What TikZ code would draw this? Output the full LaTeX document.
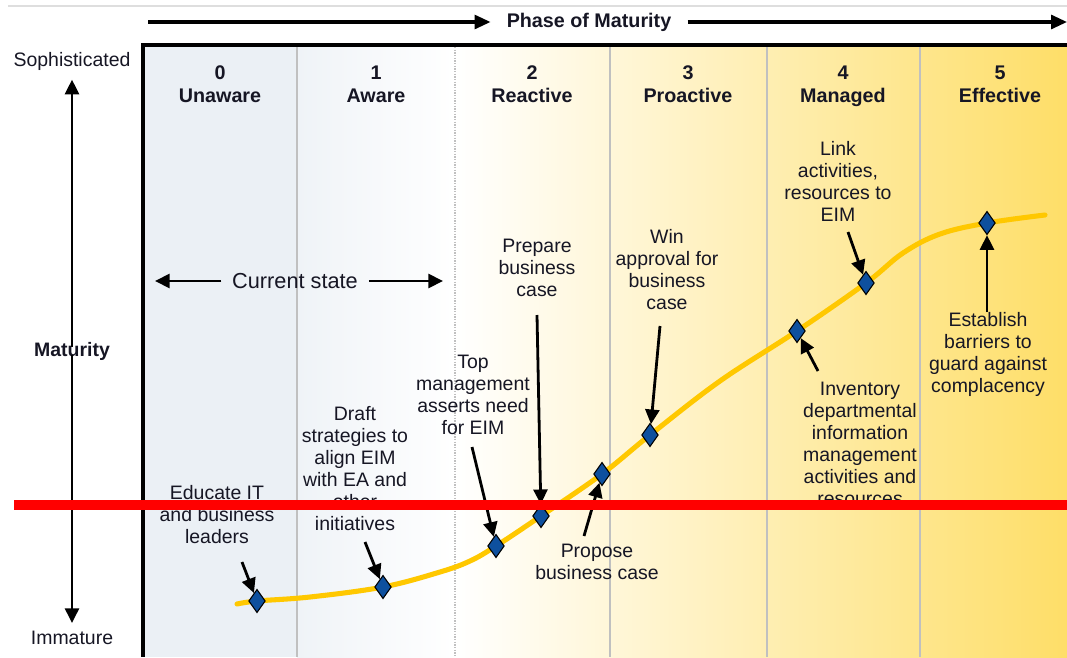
\documentclass[tikz,border=0pt]{standalone}
\usepackage{fontspec}
\setmainfont{Liberation Sans}
\usetikzlibrary{arrows.meta,shapes.geometric}

\definecolor{curveyellow}{RGB}{255,200,0}
\definecolor{gemblue}{RGB}{14,80,158}
\definecolor{leftgray}{RGB}{235,240,245}
\definecolor{rightgold}{RGB}{254,222,104}
\definecolor{sepgray}{RGB}{192,192,192}
\definecolor{inkdark}{RGB}{22,22,36}

\tikzset{
  lbl/.style={align=center, text=inkdark, font=\fontsize{14.6}{16.5}\selectfont, inner sep=0pt},
  head/.style={align=center, text=inkdark, font=\bfseries\fontsize{14.8}{17.2}\selectfont},
  gem/.style={diamond, draw=black, fill=gemblue, line width=0.8pt, inner sep=0pt,
    minimum width=12.5pt, minimum height=17.5pt},
  ptr/.style={line width=2.1pt, -{Triangle[length=11pt,width=10.5pt]}},
  bigptr/.style={line width=2.3pt, -{Triangle[length=12pt,width=10.5pt]}},
}

\begin{document}
\begin{tikzpicture}[x=0.75pt,y=-0.75pt]
	\useasboundingbox (0,0) rectangle (1067,657);

	% Hintergrund der Phasen
	\fill[leftgray] (145,47) rectangle (297,657);
	\shade[left color=leftgray!80!white, right color=white] (297,47) rectangle (455,657);
	\shade[left color=white, right color=rightgold] (455,47) rectangle (1067,657);
	\foreach \x in {297,610,767,920} {
	    \draw[sepgray, line width=0.8pt] (\x,47) -- (\x,657);
	}
	\draw[sepgray, line width=2pt, dash pattern=on 1pt off 1pt] (455,47) -- (455,657);

	\draw[black!13, line width=0.8pt] (8,6) -- (1067,6);
	\draw[line width=3.6pt] (1067,45) -- (143,45) -- (143,657);

	% Phasen
	\foreach \x/\n/\t in {220/0/Unaware, 376/1/Aware, 532/2/Reactive, 688/3/Proactive, 843/4/Managed, 1000/5/Effective} {
	    \node[head] (h\n) at (\x,86) {\n\\\t\vphantom{g}};
	}
	\node[head, inner xsep=12pt] (phase) at (589,22) {Phase of Maturity};
	\coordinate (phase-l) at (148,22);
	\coordinate (phase-r) at (1067,22);
	\draw[bigptr] (phase-l) -- (phase.west);
	\draw[bigptr] (phase.east) -- (phase-r);

	% Achse links
	\node[lbl] (soph) at (72,61) {Sophisticated};
	\node[lbl, font=\bfseries\fontsize{14.6}{16.5}\selectfont] (mat) at (72,351) {Maturity};
	\node[lbl] (imm) at (72,638) {Immature};
	\draw[ptr] ([yshift=-4pt]mat.north) -- ([yshift=-7pt]soph.south);
	\draw[ptr] ([yshift=4pt]mat.south) -- ([yshift=6pt]imm.north);

	\node[lbl, inner xsep=8pt, font=\fontsize{16.3}{18}\selectfont] (cur) at (295,281) {Current state};
	\coordinate (cur-l) at (155,281);
	\coordinate (cur-r) at (443,281);
	\draw[ptr] (cur.west) -- (cur-l);
	\draw[ptr] (cur.east) -- (cur-r);

	% Kurve
	\draw[curveyellow, line width=3.8pt, line cap=round] plot[smooth, tension=0.6] coordinates {
	    (237,604) (257,601) (310,597) (383,587) (440,572) (470,561) (496,546) (541,516)
	    (602,474) (650,435) (720,381) (797,331) (866,283) (903,253) (940,234) (987,223) (1045,215)};
	\foreach \x/\y [count=\i] in {257/601, 383/587, 496/546, 541/516, 602/474, 650/435, 797/331, 866/283, 987/223} {
	    \node[gem] (g\i) at (\x,\y) {};
	}

	% Beschriftungen
	\node[lbl] (edu) at (217,515) {Educate IT\\and business\\leaders};
	\node[lbl] (draft) at (355,469) {Draft\\strategies to\\align EIM\\with EA and\\other\\initiatives};
	\node[lbl] (topm) at (473,395) {Top\\management\\asserts need\\for EIM};
	\node[lbl] (prep) at (537,268) {Prepare\\business\\case};
	\node[lbl] (prop) at (597,562) {Propose\\business case};
	\node[lbl] (win) at (667,270) {Win\\approval for\\business\\case};
	\node[lbl] (link) at (838,181) {Link\\activities,\\resources to\\EIM};
	\node[lbl] (inv) at (860,444) {Inventory\\departmental\\information\\management\\activities and\\resources};
	\node[lbl] (estb) at (988,354) {Establish\\barriers to\\guard against\\complacency};

	\coordinate (edu-a) at (242,562);
	\coordinate (draft-a) at (365,542);
	\coordinate (topm-a) at (472,447);
	\coordinate (prep-a) at (537,315);
	\coordinate (prop-a) at (584,536);
	\coordinate (win-a) at (660,326);
	\coordinate (link-a) at (848,232);
	\coordinate (inv-a) at (818,371);
	\coordinate (estb-a) at (987,312);

	\draw[ptr] (edu-a) -- (g1);
	\draw[ptr] (draft-a) -- (g2);
	\draw[ptr] (topm-a) -- (g3);
	\draw[ptr] (prep-a) -- (g4);
	\draw[ptr] (prop-a) -- (g5);
	\draw[ptr] (win-a) -- (g6);
	\draw[ptr] (inv-a) -- (g7);
	\draw[ptr] (link-a) -- (g8);
	\draw[ptr] (estb-a) -- (g9);

	% rote Linie
	\draw[red, line width=7.5pt] (14,505) -- (1067,505);
\end{tikzpicture}
\end{document}
